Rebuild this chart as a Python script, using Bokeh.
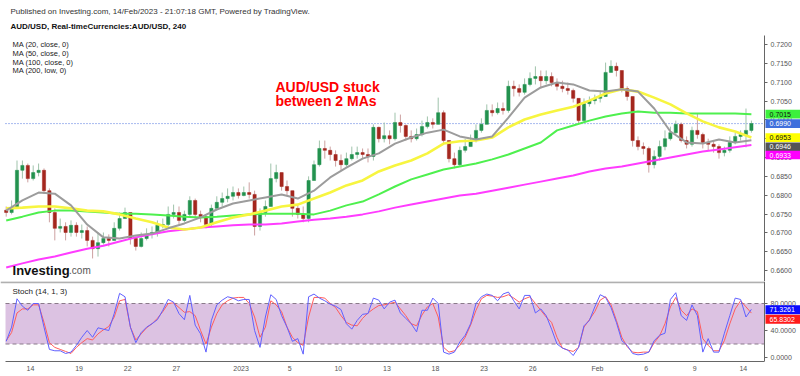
from bokeh.plotting import figure
from bokeh.models import (Range1d, FixedTicker, NumeralTickFormatter, Span, Label,
                          BoxAnnotation, LinearAxis)
from bokeh.layouts import column
from bokeh.embed import file_html
from bokeh.resources import INLINE

FONT = "Liberation Sans"

# ---------------- data (AUD/USD, 8h-ish candles) ----------------
first_open = 0.6760
close = [
    0.6754, 0.6765, 0.6866, 0.6879, 0.6844, 0.6860, 0.6866, 0.6812, 0.6754, 0.6712,
    0.6717, 0.6701, 0.6720, 0.6701, 0.6706, 0.6680, 0.6658, 0.6674, 0.6685, 0.6680,
    0.6712, 0.6738, 0.6754, 0.6685, 0.6664, 0.6685, 0.6696, 0.6701, 0.6720, 0.6722,
    0.6749, 0.6754, 0.6733, 0.6749, 0.6786, 0.6749, 0.6743, 0.6722, 0.6765, 0.6781,
    0.6791, 0.6797, 0.6807, 0.6799, 0.6807, 0.6802, 0.6717, 0.6754, 0.6770, 0.6844,
    0.6860, 0.6823, 0.6812, 0.6765, 0.6749, 0.6738, 0.6839, 0.6881, 0.6924, 0.6919,
    0.6908, 0.6892, 0.6881, 0.6897, 0.6908, 0.6913, 0.6908, 0.6903, 0.6980, 0.6950,
    0.6958, 0.6950, 0.6993, 0.6985, 0.6956, 0.6950, 0.6961, 0.6982, 0.6993, 0.6988,
    0.7019, 0.6945, 0.6897, 0.6881, 0.6919, 0.6929, 0.6945, 0.6972, 0.6988, 0.7025,
    0.7019, 0.7030, 0.7025, 0.7089, 0.7083, 0.7073, 0.7094, 0.7110, 0.7115, 0.7104,
    0.7115, 0.7099, 0.7089, 0.7083, 0.7078, 0.7057, 0.6998, 0.7043, 0.7051, 0.7057,
    0.7062, 0.7126, 0.7142, 0.7131, 0.7083, 0.7062, 0.6945, 0.6929, 0.6924, 0.6881,
    0.6903, 0.6929, 0.6950, 0.6966, 0.6988, 0.6945, 0.6935, 0.6972, 0.6961, 0.6940,
    0.6935, 0.6929, 0.6913, 0.6919, 0.6940, 0.6956, 0.6961, 0.6972, 0.6990]
high = [
    0.6770, 0.6786, 0.6892, 0.6892, 0.6884, 0.6879, 0.6884, 0.6871, 0.6818, 0.6765,
    0.6738, 0.6728, 0.6733, 0.6728, 0.6722, 0.6717, 0.6690, 0.6701, 0.6701, 0.6696,
    0.6728, 0.6754, 0.6767, 0.6754, 0.6690, 0.6701, 0.6712, 0.6717, 0.6733, 0.6738,
    0.6770, 0.6775, 0.6770, 0.6759, 0.6797, 0.6791, 0.6759, 0.6749, 0.6775, 0.6797,
    0.6807, 0.6818, 0.6823, 0.6818, 0.6823, 0.6834, 0.6812, 0.6765, 0.6786, 0.6884,
    0.6881, 0.6860, 0.6839, 0.6812, 0.6773, 0.6770, 0.6850, 0.6892, 0.6945, 0.6945,
    0.6929, 0.6919, 0.6908, 0.6913, 0.6929, 0.6929, 0.6924, 0.6924, 0.6988, 0.6982,
    0.6993, 0.6972, 0.7019, 0.7014, 0.6988, 0.6972, 0.6977, 0.6998, 0.7009, 0.7004,
    0.7059, 0.7025, 0.6945, 0.6913, 0.6929, 0.6950, 0.6961, 0.6988, 0.7004, 0.7041,
    0.7041, 0.7046, 0.7046, 0.7104, 0.7104, 0.7094, 0.7110, 0.7126, 0.7142, 0.7131,
    0.7131, 0.7126, 0.7110, 0.7104, 0.7099, 0.7083, 0.7057, 0.7057, 0.7062, 0.7067,
    0.7078, 0.7152, 0.7158, 0.7152, 0.7131, 0.7089, 0.7062, 0.6956, 0.6940, 0.6929,
    0.6919, 0.6945, 0.6972, 0.6982, 0.6998, 0.6993, 0.6956, 0.6982, 0.7017, 0.6966,
    0.6950, 0.6945, 0.6935, 0.6929, 0.6956, 0.6966, 0.6972, 0.7030, 0.6998]
low = [
    0.6743, 0.6749, 0.6765, 0.6844, 0.6834, 0.6839, 0.6850, 0.6804, 0.6728, 0.6680,
    0.6701, 0.6680, 0.6690, 0.6690, 0.6685, 0.6664, 0.6632, 0.6637, 0.6669, 0.6664,
    0.6680, 0.6706, 0.6738, 0.6669, 0.6653, 0.6661, 0.6680, 0.6685, 0.6690, 0.6712,
    0.6717, 0.6738, 0.6722, 0.6728, 0.6743, 0.6738, 0.6728, 0.6712, 0.6717, 0.6765,
    0.6770, 0.6781, 0.6786, 0.6791, 0.6797, 0.6791, 0.6693, 0.6706, 0.6743, 0.6770,
    0.6834, 0.6812, 0.6797, 0.6743, 0.6738, 0.6728, 0.6728, 0.6839, 0.6876, 0.6897,
    0.6892, 0.6876, 0.6866, 0.6876, 0.6892, 0.6897, 0.6897, 0.6887, 0.6892, 0.6940,
    0.6940, 0.6935, 0.6945, 0.6966, 0.6945, 0.6940, 0.6945, 0.6956, 0.6977, 0.6977,
    0.6988, 0.6935, 0.6887, 0.6871, 0.6876, 0.6913, 0.6929, 0.6940, 0.6966, 0.6988,
    0.7009, 0.7014, 0.7014, 0.7019, 0.7062, 0.7062, 0.7067, 0.7089, 0.7094, 0.7083,
    0.7094, 0.7089, 0.7078, 0.7073, 0.7067, 0.7046, 0.6988, 0.6993, 0.7035, 0.7041,
    0.7046, 0.7062, 0.7126, 0.7115, 0.7073, 0.7051, 0.6929, 0.6919, 0.6908, 0.6860,
    0.6871, 0.6892, 0.6919, 0.6945, 0.6961, 0.6940, 0.6924, 0.6929, 0.6950, 0.6924,
    0.6919, 0.6913, 0.6897, 0.6903, 0.6913, 0.6935, 0.6945, 0.6927, 0.6966]

# moving averages, one reading per trading day
ma20 = [0.6759, 0.6786, 0.6807, 0.6804, 0.6773, 0.6722, 0.6688, 0.6685, 0.6693, 0.6698,
        0.6712, 0.6725, 0.6741, 0.6762, 0.6778, 0.6786, 0.6794, 0.6802, 0.6791, 0.6812,
        0.6847, 0.6873, 0.6897, 0.6911, 0.6937, 0.6953, 0.6966, 0.6974, 0.6956, 0.6948,
        0.6956, 0.7006, 0.7059, 0.7086, 0.7099, 0.7094, 0.7078, 0.7075, 0.7081, 0.7075,
        0.7030, 0.6969, 0.6940, 0.6937, 0.6948, 0.6940, 0.6946]
ma50 = [0.6765, 0.6767, 0.6770, 0.6770, 0.6765, 0.6759, 0.6757, 0.6749, 0.6738, 0.6728,
        0.6714, 0.6709, 0.6714, 0.6728, 0.6741, 0.6749, 0.6759, 0.6770, 0.6775, 0.6791,
        0.6807, 0.6826, 0.6839, 0.6863, 0.6879, 0.6892, 0.6911, 0.6937, 0.6943, 0.6945,
        0.6953, 0.6980, 0.7001, 0.7014, 0.7025, 0.7035, 0.7051, 0.7070, 0.7081, 0.7075,
        0.7059, 0.7041, 0.7017, 0.6996, 0.6980, 0.6969, 0.6953]
ma100 = [0.6733, 0.6743, 0.6754, 0.6759, 0.6759, 0.6757, 0.6754, 0.6751, 0.6751, 0.6749,
         0.6746, 0.6743, 0.6741, 0.6743, 0.6746, 0.6749, 0.6751, 0.6751, 0.6751, 0.6749,
         0.6759, 0.6773, 0.6783, 0.6802, 0.6823, 0.6842, 0.6855, 0.6868, 0.6876, 0.6884,
         0.6895, 0.6908, 0.6924, 0.6940, 0.6972, 0.6985, 0.6998, 0.7009, 0.7017, 0.7022,
         0.7019, 0.7019, 0.7017, 0.7017, 0.7017, 0.7017, 0.7015]
ma200 = [0.6608, 0.6619, 0.6629, 0.6637, 0.6648, 0.6658, 0.6666, 0.6677, 0.6688, 0.6696,
         0.6704, 0.6709, 0.6714, 0.6717, 0.6720, 0.6722, 0.6722, 0.6725, 0.6730, 0.6735,
         0.6738, 0.6743, 0.6749, 0.6757, 0.6767, 0.6775, 0.6783, 0.6791, 0.6799, 0.6804,
         0.6812, 0.6820, 0.6828, 0.6836, 0.6844, 0.6852, 0.6863, 0.6871, 0.6876, 0.6884,
         0.6892, 0.6900, 0.6908, 0.6916, 0.6921, 0.6927, 0.6933]

# stochastic (14, 1, 3)
stoch_k = [24, 45, 87, 76, 70, 80, 80, 45, 12, 10,
           10, 6, 8, 18, 30, 40, 30, 44, 42, 40,
           65, 95, 90, 45, 22, 37, 45, 50, 56, 70,
           86, 82, 65, 56, 92, 48, 35, 8, 55, 78,
           85, 90, 88, 84, 86, 86, 40, 15, 60, 93,
           86, 62, 45, 24, 28, 5, 90, 94, 88, 84,
           79, 76, 71, 50, 42, 55, 64, 65, 88, 85,
           72, 82, 85, 66, 58, 50, 38, 70, 70, 88,
           80, 8, 5, 8, 23, 33, 50, 80, 90, 94,
           92, 84, 94, 97, 84, 72, 92, 92, 66, 72,
           62, 42, 20, 14, 11, 3, 15, 47, 55, 75,
           93, 89, 74, 52, 25, 18, 6, 4, 5, 8,
           25, 33, 36, 86, 96, 62, 55, 78, 62, 8,
           28, 8, 8, 36, 62, 88, 86, 60, 71.3261]
stoch_d = [25, 37, 66, 72, 72, 78, 78, 52, 22, 15,
           12, 9, 6, 15, 22, 28, 26, 35, 41, 46,
           60, 84, 86, 45, 26, 35, 44, 50, 58, 68,
           80, 81, 74, 67, 68, 62, 40, 20, 45, 65,
           78, 84, 88, 89, 89, 80, 60, 30, 45, 84,
           78, 68, 45, 30, 22, 18, 60, 89, 89, 88,
           80, 74, 62, 52, 48, 47, 58, 66, 72, 77,
           78, 80, 82, 72, 62, 50, 47, 63, 75, 80,
           60, 15, 8, 10, 18, 30, 48, 70, 87, 92,
           91, 89, 90, 93, 88, 82, 87, 90, 80, 70,
           60, 52, 30, 14, 11, 9, 15, 45, 56, 68,
           85, 90, 78, 55, 30, 16, 8, 7, 8, 8,
           22, 32, 50, 75, 89, 70, 62, 72, 68, 28,
           18, 10, 10, 25, 50, 72, 84, 75, 65.8302]

price_ticks = [0.6600, 0.6650, 0.6700, 0.6750, 0.6800, 0.6850, 0.6900,
               0.6950, 0.7000, 0.7050, 0.7100, 0.7150, 0.7200]
stoch_ticks = [0, 40, 80]
stoch_band = (20, 80)
# trading-day index (Dec 14 = 0) and its label
date_ticks = [0, 3, 6, 9, 13, 16, 19, 22, 25, 28, 31, 35, 38, 41, 44]
date_labels = ["14", "19", "22", "27", "2023", "5", "10", "13", "18", "23", "26",
               "Feb", "6", "9", "14"]
ma_legend = ["MA (20, close, 0)", "MA (50, close, 0)", "MA (100, close, 0)", "MA (200, low, 0)"]

n = len(close)
assert len(high) == n and len(low) == n and len(stoch_k) == n and len(stoch_d) == n
cx = [-1.5 + i / 3 for i in range(n)]          # 3 bars per trading day
mx = [-1.5 + k for k in range(len(ma20))]       # one MA reading per day
opens = [first_open] + close[:-1]
up = [c >= o for o, c in zip(opens, close)]
body_top = [max(o, c) for o, c in zip(opens, close)]
body_bot = [min(o, c) for o, c in zip(opens, close)]
body_col = ["#23924f" if u else "#a4271e" for u in up]
wick_col = ["#9fc3ab" if u else "#cda1a1" for u in up]

# ---------------- geometry ----------------
X0, X1 = -1.852, 47.531          # whole canvas width in trading days
XL, XA = -1.543, 45.309          # left edge of the chart, price-axis position
PTOP, PBOT = 0.72239, 0.657085   # price extent of the chart area
AX_COL = "#666666"
LB_COL = "#555555"
XR = Range1d(X0, X1)


def style_axis(ax, size="7px"):
    ax.axis_line_color = AX_COL
    ax.major_tick_line_color = AX_COL
    ax.major_tick_out = 3
    ax.major_tick_in = 0
    ax.minor_tick_line_color = None
    ax.major_label_standoff = 3
    ax.major_label_text_font = FONT
    ax.major_label_text_font_size = size
    ax.major_label_text_color = LB_COL


def lab(p, x, y, text, size, color="#222222", style="normal", baseline="middle"):
    p.add_layout(Label(x=x, y=y, text=text, text_font=FONT, text_font_size=size,
                       text_color=color, text_font_style=style,
                       text_baseline=baseline, text_align="left"))


def tag(p, y, half, text, bg, fg):
    p.add_layout(BoxAnnotation(left=45.37, right=X1 + 1, bottom=y - half, top=y + half,
                               fill_color=bg, fill_alpha=1.0, line_color=None))
    lab(p, 45.62, y, text, "7px", fg)


# ---------------- main price panel ----------------
p1 = figure(frame_width=800, frame_height=281, x_range=XR, y_range=Range1d(PBOT, 0.731681),
            output_backend="svg", toolbar_location=None, x_axis_location=None,
            y_axis_location=None, min_border=0)
p1.outline_line_color = None
p1.grid.visible = False

ya = LinearAxis(fixed_location=XA, bounds=(PBOT, PTOP),
                ticker=FixedTicker(ticks=price_ticks),
                formatter=NumeralTickFormatter(format="0.0000"))
style_axis(ya)
p1.add_layout(ya, "right")

p1.segment(x0=[XL], y0=[close[-1]], x1=[XA], y1=[close[-1]], line_color="#4f74de",
           line_dash="1 2", line_width=1)

p1.segment(x0=cx, y0=low, x1=cx, y1=high, line_color=wick_col, line_width=1)
p1.vbar(x=cx, width=0.2, top=body_top, bottom=body_bot, fill_color=body_col,
        line_color=body_col, line_width=0.5)

p1.line(mx, ma200, line_color="#ff3cff", line_width=2)
p1.line(mx, ma100, line_color="#4ef04e", line_width=2)
p1.line(mx, ma50, line_color="#f7f540", line_width=2.6)
p1.line(mx, ma20, line_color="#9c9c9c", line_width=2)

lab(p1, -1.235, 0.72876, "Published on Investing.com, 14/Feb/2023 - 21:07:18 GMT, Powered by TradingView.",
    "8px", "#333333")
lab(p1, -1.235, 0.72470, "AUD/USD, Real-timeCurrencies:AUD/USD, 240", "8px", "#111111", "bold")
for txt, yy in zip(ma_legend, [0.71987, 0.71761, 0.71535, 0.71310]):
    lab(p1, -1.11, yy, txt, "7.5px", "#222222")

lab(p1, 15.12, 0.70885, "AUD/USD stuck", "14px", "#ff0000", "bold")
lab(p1, 15.12, 0.70513, "between 2 MAs", "14px", "#ff0000", "bold")

lab(p1, -1.11, 0.66000, "Investing", "13px", "#111111", "bold", "alphabetic")
lab(p1, 2.38, 0.66000, ".com", "10px", "#555555", "normal", "alphabetic")

for txt, yy, bg, fg in [(f"{ma100[-1]:.4f}", 0.701497, "#3cf03c", "#111111"),
                        (f"{close[-1]:.4f}", 0.698975, "#3f6fdc", "#ffffff"),
                        (f"{ma50[-1]:.4f}", 0.695258, "#ffff00", "#111111"),
                        (f"{ma20[-1]:.4f}", 0.692843, "#555555", "#ffffff"),
                        (f"{ma200[-1]:.4f}", 0.690666, "#ff00ff", "#ffffff")]:
    tag(p1, yy, 0.00115, txt, bg, fg)

# ---------------- stochastic panel ----------------
p2 = figure(frame_width=800, frame_height=80, x_range=XR, y_range=Range1d(-5.9, 112.6),
            output_backend="svg", toolbar_location=None, x_axis_location="below",
            y_axis_location=None, min_border_left=0, min_border_right=0,
            min_border_top=0, min_border_bottom=15)
p2.outline_line_color = None
p2.grid.visible = False
p2.add_layout(BoxAnnotation(left=XL, right=XA, bottom=stoch_band[0], top=stoch_band[1],
                            fill_color="#dcc2e2", fill_alpha=1.0, line_color=None,
                            level="underlay"))
p2.segment(x0=[XL, XL], y0=list(stoch_band), x1=[XA, XA], y1=list(stoch_band),
           line_color="#8a7a8a", line_dash="4 3", line_width=1)
p2.segment(x0=[X0], y0=[111.6], x1=[XA], y1=[111.6], line_color="#b0b0b0", line_width=2)

p2.line(cx, stoch_d, line_color="#ff5c5c", line_width=1)
p2.line(cx, stoch_k, line_color="#6060ff", line_width=1)

sa = LinearAxis(fixed_location=XA, ticker=FixedTicker(ticks=stoch_ticks),
                formatter=NumeralTickFormatter(format="0.0000"))
style_axis(sa)
p2.add_layout(sa, "right")

xa = p2.xaxis[0]
xa.ticker = FixedTicker(ticks=date_ticks)
xa.major_label_overrides = {t: l for t, l in zip(date_ticks, date_labels)}
xa.bounds = (XL, XA)
style_axis(xa)
xa.major_tick_out = 0

lab(p2, -1.11, 97.8, "Stoch (14, 1, 3)", "8px", "#222222")
tag(p2, 70.8, 6.6, f"{stoch_k[-1]:.4f}", "#0a0aff", "#ffffff")
tag(p2, 56.6, 6.6, f"{stoch_d[-1]:.4f}", "#ff1a1a", "#ffffff")

layout = column(p1, p2)
open("out.html", "w").write(file_html(layout, INLINE))
